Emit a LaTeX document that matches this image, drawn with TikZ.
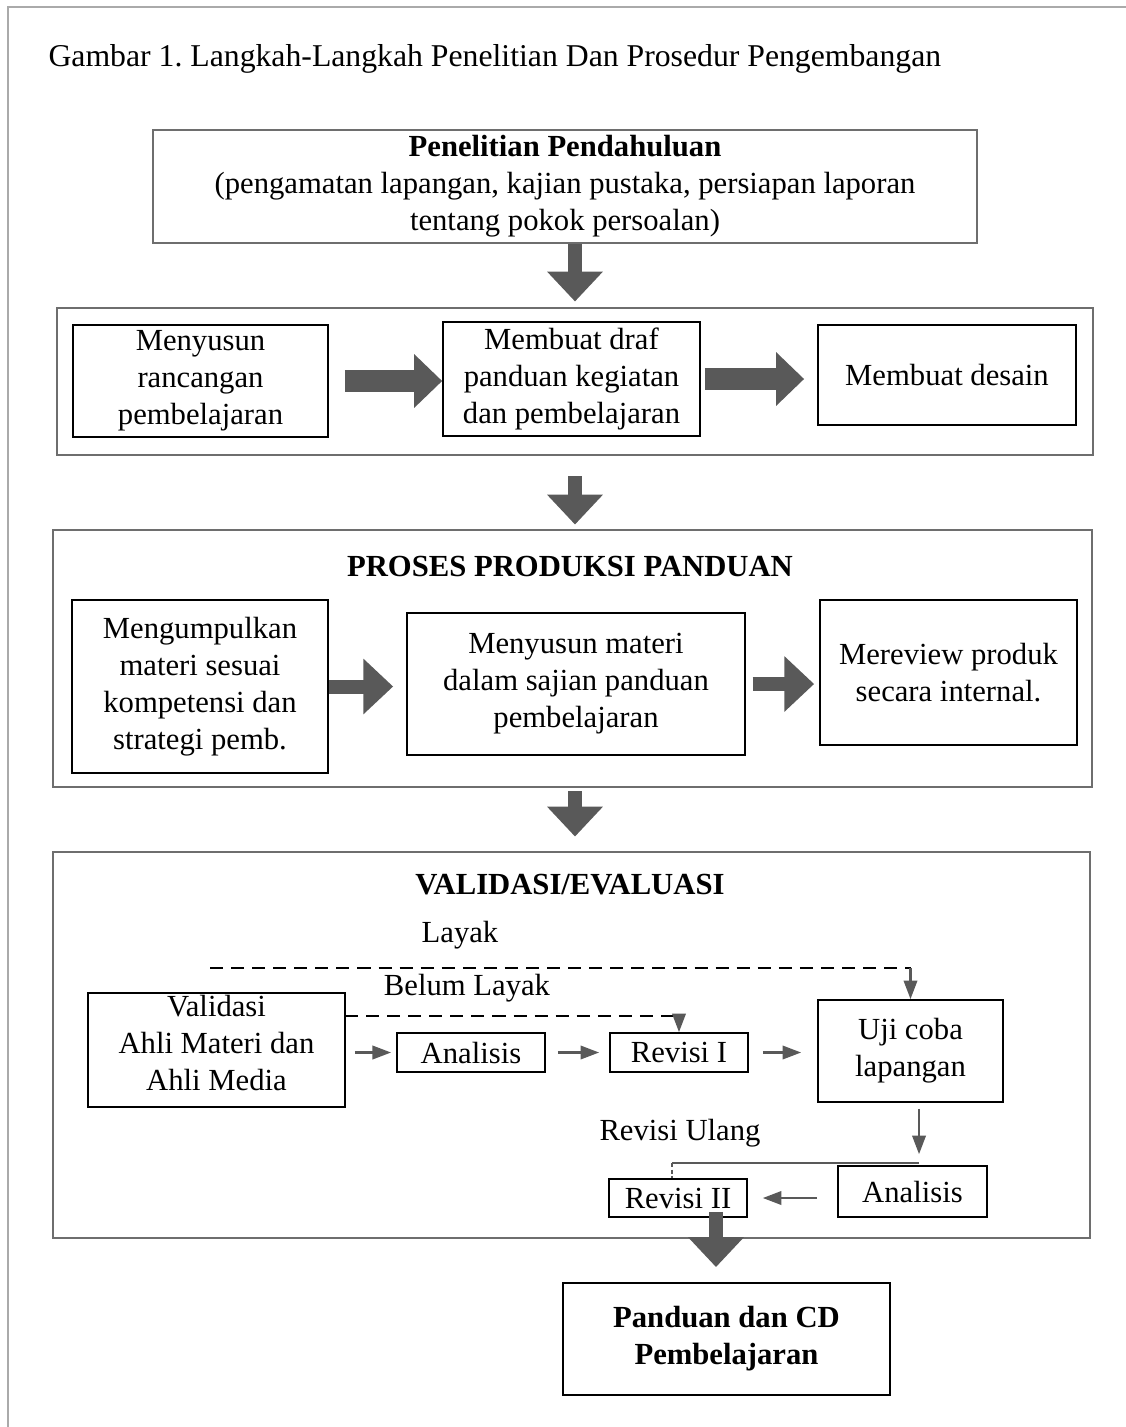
\documentclass[tikz,border=0pt]{standalone}
\usepackage{fontspec}
\setmainfont{Liberation Serif}
\usepackage{tikz}
\usetikzlibrary{arrows.meta,positioning,calc}

\definecolor{pfeilgrau}{HTML}{595959}
\definecolor{rahmengrau}{HTML}{6E6E6E}
\definecolor{randgrau}{HTML}{AAAAAA}

\newcommand{\pix}{0.375pt}

\tikzset{
	txt/.style={font=\fontsize{11.5pt}{13.9pt}\selectfont, align=center, inner sep=0pt},
	kasten/.style={txt, draw=black, line width=0.6pt},
	gruppe/.style={txt, draw=rahmengrau, line width=1.1pt},
	dickpfeil/.style={draw=pfeilgrau, line width=5.25pt, -{Triangle[width=20.25pt,length=11.2pt]}},
	breitpfeil/.style={draw=pfeilgrau, line width=8.6pt, -{Triangle[width=19.5pt,length=10.5pt]}},
	pfeil/.style={draw=pfeilgrau, line width=1pt, -{Triangle[width=5pt,length=7pt]}},
	strich/.style={draw=black, line width=0.75pt, dash pattern=on 4.9pt off 3pt},
	linie/.style={draw=pfeilgrau, line width=0.5pt}
}

\begin{document}
\begin{tikzpicture}[x=0.375pt, y=-0.375pt]
	\useasboundingbox (0,0) rectangle (1126,1427); % Seitenformat
	\draw[randgrau, line width=0.75pt] (1126,7) -- (8,7) -- (8,1427);
	
	\node[txt, font=\fontsize{11.9pt}{13.9pt}\selectfont, anchor=base west] (titel) at (48,66) {Gambar 1.\ Langkah-Langkah Penelitian Dan Prosedur Pengembangan};
	
	% Penelitian Pendahuluan
	\node[gruppe, minimum width=824*\pix, minimum height=113*\pix] (pend) at (565,186.5)
		{\textbf{Penelitian Pendahuluan}\\(pengamatan lapangan, kajian pustaka, persiapan laporan\\tentang pokok persoalan)};
	
	% Planung
	\node[gruppe, minimum width=1036*\pix, minimum height=147*\pix] (grp2) at (575,381.5) {};
	\node[kasten, minimum width=255*\pix, minimum height=112*\pix] (rancang) at (200.5,381) {Menyusun\\rancangan\\pembelajaran};
	\node[kasten, minimum width=257*\pix, minimum height=114*\pix] (draf) at (571.5,379) {Membuat draf\\panduan kegiatan\\dan pembelajaran};
	\node[kasten, minimum width=258*\pix, minimum height=100*\pix] (desain) at (947,375) {Membuat desain};
	\draw[breitpfeil, shorten <=6pt] (rancang.east) -- (rancang.east -| draf.west);
	\draw[breitpfeil, shorten <=1.5pt, shorten >=4.9pt] (draf.east) -- (draf.east -| desain.west);
	
	% Produktion
	\node[gruppe, minimum width=1039*\pix, minimum height=257*\pix] (grp3) at (572.5,658.5) {};
	\node[txt] (proses) at (570,566) {\textbf{PROSES PRODUKSI PANDUAN}};
	\node[kasten, minimum width=256*\pix, minimum height=173*\pix] (kumpul) at (200,686.5) {Mengumpulkan\\materi sesuai\\kompetensi dan\\strategi pemb.};
	\node[kasten, minimum width=338*\pix, minimum height=142*\pix] (susun) at (576,684) {Menyusun materi\\dalam sajian panduan\\pembelajaran};
	\node[kasten, minimum width=257*\pix, minimum height=145*\pix] (review) at (948.5,672.5) {Mereview produk\\secara internal.};
	\draw[dickpfeil, shorten >=4.9pt] (kumpul.east) -- (kumpul.east -| susun.west);
	\draw[dickpfeil, shorten <=2.6pt, shorten >=1.9pt] (susun.east) -- (susun.east -| review.west);
	
	% Validierung
	\node[gruppe, minimum width=1037*\pix, minimum height=386*\pix] (grp4) at (571.5,1045) {};
	\node[txt] (validtitel) at (570,885) {\textbf{VALIDASI/EVALUASI}};
	\node[txt] (layak) at (460,935) {Layak};
	\node[txt] (belum) at (467,988) {Belum Layak};
	\node[kasten, text depth=5.5pt, minimum width=257*\pix, minimum height=114*\pix] (validasi) at (216.5,1050) {Validasi\\Ahli Materi dan\\Ahli Media};
	\node[kasten, minimum width=148*\pix, minimum height=39*\pix] (anal1) at (471,1052.5) {Analisis};
	\node[kasten, minimum width=138*\pix, minimum height=39*\pix] (rev1) at (679,1052.5) {Revisi I};
	\node[kasten, minimum width=185*\pix, minimum height=102*\pix] (uji) at (910.5,1051) {Uji coba\\lapangan};
	\node[kasten, minimum width=149*\pix, minimum height=51*\pix] (anal2) at (912.5,1191.5) {Analisis};
	\node[kasten, minimum width=138*\pix, minimum height=38*\pix] (rev2) at (678,1198) {Revisi II};
	\node[txt] (ulang) at (680,1133) {Revisi Ulang};
	
	\coordinate (layakA) at (210,968);
	\coordinate (belumA) at (345,1016);
	\coordinate (ulangA) at (919,1163);
	\coordinate (ulangB) at (672,1163);
	
	\draw[strich] (layakA) -- (layakA -| uji.north);
	\draw[pfeil] (layakA -| uji.north) -- (uji.north);
	\draw[strich] (belumA) -- (belumA -| rev1.north);
	\draw[pfeil] (belumA -| rev1.north) -- (rev1.north);
	
	\draw[pfeil, shorten <=3.4pt, shorten >=1.9pt] (anal1.west -| validasi.east) -- (anal1.west);
	\draw[pfeil, shorten <=4.5pt, shorten >=3.75pt] (anal1.east) -- (rev1.west);
	\draw[pfeil, shorten <=5.25pt, shorten >=6pt] (rev1.east) -- (rev1.east -| uji.west);
	\draw[pfeil, shorten <=2.25pt, shorten >=4.1pt] ([xshift=3.2pt]uji.south) -- ([xshift=3.2pt]uji.south |- anal2.north);
	\draw[pfeil, shorten <=7.5pt, shorten >=5.6pt] (anal2.west |- rev2.east) -- (rev2.east);
	
	\draw[linie] (ulangA) -- (ulangB);
	\draw[linie, dash pattern=on 1.5pt off 1pt] (ulangB) -- (ulangB |- rev2.north);
	
	% Ergebnis
	\node[kasten, line width=0.75pt, minimum width=327*\pix, minimum height=112*\pix] (hasil) at (726.5,1339) {\textbf{Panduan dan CD}\\\textbf{Pembelajaran}};
	
	% dicke Pfeile nach unten
	\draw[dickpfeil, shorten >=1.9pt] (pend.south -| grp2.north) -- (grp2.north);
	\draw[dickpfeil, shorten <=7.5pt, shorten >=1.5pt] (grp2.south) -- (grp2.south |- grp3.north);
	\draw[dickpfeil, shorten <=1.1pt, shorten >=5.25pt] (grp3.south -| grp2.south) -- (grp2.south |- grp4.north);
	\draw[dickpfeil, shorten <=-2.25pt, shorten >=5.6pt] ([xshift=14.25pt]rev2.south) -- ([xshift=14.25pt]rev2.south |- hasil.north);
\end{tikzpicture}
\end{document}
